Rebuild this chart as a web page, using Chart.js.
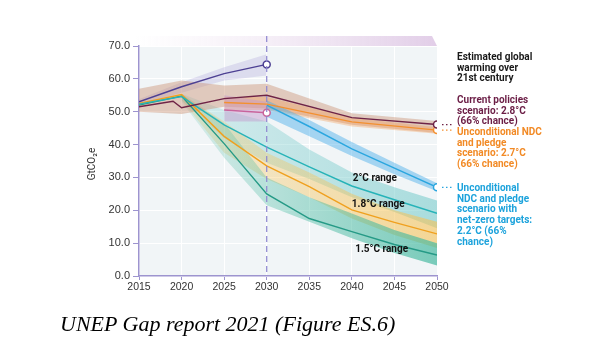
<!DOCTYPE html>
<html><head><meta charset="utf-8">
<script src="https://cdn.jsdelivr.net/npm/chart.js@4.4.1/dist/chart.umd.min.js"></script>
<style>
body{margin:0;background:#fff;}
#wrap{position:relative;width:600px;height:364px;overflow:hidden;background:#fff;}
canvas{position:absolute;left:0;top:0;}
.note{position:absolute;left:457px;font-family:Roboto,"Liberation Sans",sans-serif;font-weight:bold;font-size:10px;line-height:10.7px;white-space:nowrap;}
#caption{position:absolute;left:60px;top:311px;font-family:"Liberation Serif","Times New Roman",serif;font-style:italic;font-size:22px;color:#000;white-space:nowrap;}
</style></head>
<body>
<div id="wrap">
<canvas id="c" width="600" height="364"></canvas>
<div class="note" style="top:52px;color:#1a1a1a">Estimated global<br>warming over<br>21st century</div>
<div class="note" style="top:95px;color:#6b1d45">Current policies<br>scenario: 2.8°C<br>(66% chance)</div>
<div class="note" style="top:127px;color:#f28a25">Unconditional NDC<br>and pledge<br>scenario: 2.7°C<br>(66% chance)</div>
<div class="note" style="top:183px;color:#1da3dc">Unconditional<br>NDC and pledge<br>scenario with<br>net-zero targets:<br>2.2°C (66%<br>chance)</div>
<div id="caption">UNEP Gap report 2021 (Figure ES.6)</div>
</div>
<script>
// ---------- data (GtCO2e) ----------
const xTicks = [2015, 2020, 2025, 2030, 2035, 2040, 2045, 2050];
const yTicks = [0, 10, 20, 30, 40, 50, 60, 70];

// Current policies scenario
const cpYears  = [2015, 2019, 2020, 2025, 2030, 2040, 2050];
const cpValues = [51.5, 53.2, 51.2, 54.0, 55.0, 48.2, 46.1];
const cpBandYears = [2015, 2020, 2025, 2030, 2040, 2050];
const cpLow  = [50.0, 49.3, 51.5, 51.0, 46.0, 43.5];
const cpHigh = [57.0, 59.5, 58.0, 58.5, 49.5, 47.2];

// Baseline trend to 2030
const bauYears  = [2015, 2020, 2025, 2030];
const bauValues = [53.0, 57.6, 61.6, 64.4];
const bauLow  = [52.3, 55.8, 59.5, 61.0];
const bauHigh = [53.8, 59.0, 63.5, 67.5];

// Unconditional NDC and pledge scenario
const ndcYears  = [2025, 2030, 2040, 2050];
const ndcValues = [52.8, 52.3, 46.9, 44.4];
const ndcLow  = [50.5, 50.5, 45.5, 43.3];
const ndcHigh = [54.5, 54.5, 48.2, 45.3];

// Conditional NDC 2030
const condYears  = [2025, 2030];
const condValues = [50.5, 49.7];
const condLow  = [47.0, 47.0];
const condHigh = [55.0, 53.0];

// Unconditional NDC + net-zero targets
const nzYears  = [2030, 2035, 2040, 2045, 2050];
const nzValues = [52.0, 45.5, 38.7, 32.8, 27.0];
const nzLow  = [48.5, 42.5, 36.5, 31.0, 25.8];
const nzHigh = [53.5, 47.5, 40.8, 34.5, 28.2];

// Temperature pathways
const pathYears = [2015, 2020, 2025, 2030, 2035, 2040, 2045, 2050];
const p20Values = [52.3, 54.6, 46.0, 39.2, 33.2, 27.4, 23.2, 19.1];
const p18Values = [52.5, 55.2, 42.5, 33.5, 27.2, 20.1, 16.3, 12.8];
const p15Values = [52.0, 54.8, 40.3, 25.0, 17.5, 13.5, 9.6, 6.4];
const rangeYears = [2020, 2025, 2030, 2035, 2040, 2045, 2050];
const p20Low  = [53.5, 42.0, 34.5, 29.5, 24.0, 19.5, 14.5];
const p20High = [55.5, 50.5, 47.0, 38.5, 31.5, 27.0, 23.0];
const p18Low  = [53.5, 37.5, 29.5, 24.0, 17.5, 12.5, 8.5];
const p18High = [55.5, 47.0, 37.5, 31.5, 25.0, 20.0, 16.5];
const p15Low  = [53.0, 36.0, 21.5, 16.5, 11.5, 7.0, 3.2];
const p15High = [55.5, 46.5, 30.0, 24.0, 19.0, 14.0, 10.0];

const rangeLabels = ['2°C range', '1.8°C range', '1.5°C range'];
const rangeLabelPos = [[2042.7, 29.7], [2043.1, 21.9], [2043.5, 8.2]];
const markerYear = 2030;

// ---------- helpers ----------
const pts = (xs, ys) => xs.map((x, i) => ({x: x, y: ys[i]}));
function gradFill(rgb, a0, a1) {
  return function (ctx) {
    const chart = ctx.chart, ca = chart.chartArea;
    if (!ca) return 'rgba(' + rgb + ',' + a1 + ')';
    const xs = chart.scales.x;
    const g = chart.ctx.createLinearGradient(xs.getPixelForValue(2020), 0, xs.getPixelForValue(2050), 0);
    g.addColorStop(0, 'rgba(' + rgb + ',' + a0 + ')');
    g.addColorStop(1, 'rgba(' + rgb + ',' + a1 + ')');
    return g;
  };
}
function band(xs, lo, hi, color) {
  return [
    {data: pts(xs, lo), borderWidth: 0, pointRadius: 0, fill: false, tension: 0},
    {data: pts(xs, hi), borderWidth: 0, pointRadius: 0, fill: '-1', backgroundColor: color, tension: 0}
  ];
}
function line(xs, ys, color, markerIdx) {
  return {
    data: pts(xs, ys), borderColor: color, borderWidth: 1.4, fill: false, tension: 0,
    pointRadius: xs.map((_, i) => i === markerIdx ? 3.5 : 0),
    pointBackgroundColor: '#ffffff', pointBorderColor: color, pointBorderWidth: 1.5
  };
}

const COL = {
  cp: '#6e2346', bau: '#4d4093', ndc: '#f39030', cond: '#c8649c', nz: '#2aa6df',
  p20: '#26b3b8', p18: '#f0a01e', p15: '#259a86'
};

// lines first (drawn on top), bands after (drawn beneath)
const datasets = [
  line(bauYears, bauValues, COL.bau, bauYears.length - 1),
  line(condYears, condValues, COL.cond, condYears.length - 1),
  line(cpYears, cpValues, COL.cp, cpYears.length - 1),
  line(ndcYears, ndcValues, COL.ndc, ndcYears.length - 1),
  line(nzYears, nzValues, COL.nz, nzYears.length - 1),
  line(pathYears, p20Values, COL.p20, -1),
  line(pathYears, p18Values, COL.p18, -1),
  line(pathYears, p15Values, COL.p15, -1),
  ...band(nzYears, nzLow, nzHigh, 'rgba(70,172,232,0.45)'),
  ...band(condYears, condLow, condHigh, 'rgba(195,150,205,0.45)'),
  ...band(ndcYears, ndcLow, ndcHigh, 'rgba(245,150,70,0.32)'),
  ...band(cpBandYears, cpLow, cpHigh, 'rgba(200,140,110,0.42)'),
  ...band(bauYears, bauLow, bauHigh, 'rgba(165,155,215,0.28)'),
  ...band(rangeYears, p15Low, p15High, gradFill('70,185,160', 0.15, 0.7)),
  ...band(rangeYears, p18Low, p18High, gradFill('245,195,90', 0.22, 0.62)),
  ...band(rangeYears, p20Low, p20High, gradFill('110,200,200', 0.22, 0.55))
];

const decor = {
  id: 'decor',
  beforeDraw(chart) {
    const {ctx, chartArea: ca, scales: {x, y}} = chart;
    ctx.save();
    ctx.fillStyle = '#f1f5f7';
    ctx.fillRect(ca.left, ca.top, ca.right - ca.left, ca.bottom - ca.top);
    // top ribbon
    const yt = ca.top - 10, yb = ca.top;
    const xl = x.getPixelForValue(2014.3), xr = x.getPixelForValue(2050);
    const g = ctx.createLinearGradient(xl, 0, xr, 0);
    g.addColorStop(0, 'rgba(238,226,240,0)');
    g.addColorStop(1, 'rgba(226,206,232,1)');
    ctx.fillStyle = g;
    ctx.beginPath();
    ctx.moveTo(xl, yt); ctx.lineTo(xr - 5, yt); ctx.lineTo(xr, yb); ctx.lineTo(xl, yb); ctx.closePath();
    ctx.fill();
    ctx.restore();
  },
  afterDatasetsDraw(chart) {
    const {ctx, chartArea: ca, scales: {x, y}} = chart;
    ctx.save();
    // 2030 dashed marker line
    const xm = x.getPixelForValue(markerYear);
    ctx.strokeStyle = '#8d85cf'; ctx.lineWidth = 1.2; ctx.setLineDash([6, 4]);
    ctx.beginPath(); ctx.moveTo(xm, ca.top - 10); ctx.lineTo(xm, ca.bottom); ctx.stroke();
    // leaders to the notes
    ctx.setLineDash([1.5, 2.5]); ctx.lineWidth = 1.2;
    const x50 = x.getPixelForValue(2050);
    [[cpValues[cpValues.length - 1], COL.cp], [ndcValues[ndcValues.length - 1], COL.ndc], [nzValues[nzValues.length - 1], COL.nz]].forEach(([v, c]) => {
      const yy = y.getPixelForValue(v);
      ctx.strokeStyle = c;
      ctx.beginPath(); ctx.moveTo(x50 + 5, yy); ctx.lineTo(454, yy); ctx.stroke();
    });
    ctx.setLineDash([]);
    // range labels
    ctx.fillStyle = '#111';
    ctx.font = 'bold 10px Roboto, "Liberation Sans", sans-serif';
    ctx.textAlign = 'center'; ctx.textBaseline = 'middle';
    rangeLabels.forEach((t, i) => {
      ctx.fillText(t, x.getPixelForValue(rangeLabelPos[i][0]), y.getPixelForValue(rangeLabelPos[i][1]));
    });
    // y-axis title
    ctx.translate(92, (ca.top + ca.bottom) / 2 + 3);
    ctx.rotate(-Math.PI / 2);
    ctx.fillStyle = '#333';
    ctx.font = '10px Roboto, "Liberation Sans", sans-serif';
    ctx.fillText('GtCO₂e', 0, 0);
    ctx.restore();
  }
};

const axisCol = '#9d94cf';
new Chart(document.getElementById('c'), {
  type: 'line',
  data: {datasets},
  options: {
    responsive: false, animation: false, events: [],
    layout: {padding: {left: 80, right: 163, top: 46, bottom: 60}},
    plugins: {legend: {display: false}, tooltip: {enabled: false},
      filler: {propagate: false, drawTime: 'beforeDatasetsDraw'}},
    scales: {
      x: {
        type: 'linear', min: 2015, max: 2050,
        afterBuildTicks: s => { s.ticks = xTicks.map(v => ({value: v})); },
        afterFit: s => { s.height = 28; },
        ticks: {callback: v => String(v), color: '#333', padding: 1, maxRotation: 0,
                font: {family: '"Liberation Sans", Arial, sans-serif', size: 10.5}},
        grid: {color: '#ffffff', lineWidth: 1, tickColor: axisCol, tickLength: 4},
        border: {color: axisCol, width: 1.5}
      },
      y: {
        min: 0, max: 70,
        afterBuildTicks: s => { s.ticks = yTicks.map(v => ({value: v})); },
        afterFit: s => { s.width = 59; },
        ticks: {callback: v => v.toFixed(1), color: '#333', padding: 3,
                font: {family: '"Liberation Sans", Arial, sans-serif', size: 11}},
        grid: {color: '#ffffff', lineWidth: 1, tickColor: axisCol, tickLength: 6},
        border: {color: axisCol, width: 1.5}
      }
    }
  },
  plugins: [decor]
});
</script>
</body></html>
